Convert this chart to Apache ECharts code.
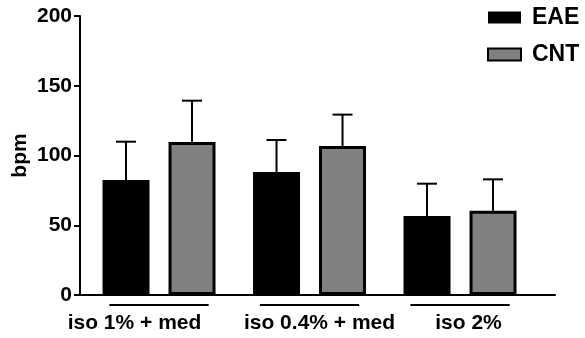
<!DOCTYPE html>
<html>
<head>
<meta charset="utf-8">
<script src="https://cdn.jsdelivr.net/npm/echarts@6/dist/echarts.min.js"></script>
<style>
  html, body { margin: 0; padding: 0; background: #fff; }
  #chart { width: 585px; height: 338px; }
</style>
</head>
<body>
<div id="chart"></div>
<script>
// Heart rate (bpm) under three anaesthesia conditions, mean + upper SD
const categories = ['iso 1% + med', 'iso 0.4% + med', 'iso 2%'];
const eaeMean = [82.4, 88.2, 56.6];
const eaeUpper = [109.9, 111.1, 79.8];
const cntMean = [109.7, 106.8, 60.4];
const cntUpper = [139.3, 129.3, 82.9];
const yTicks = [0, 50, 100, 150, 200];

const FONT = '"Liberation Sans", Arial, sans-serif';
const BAR_W = 47;
const BAR_GAP = 19;
const CAP_W = 20;

// horizontal nudges of the category captions (px, applied as padding)
const labelPads = [[0, 49, 0, 0], [0, 0, 0, 20], [0, 0, 0, 17]];

const chart = echarts.init(document.getElementById('chart'));

function errorSeries(name, means, uppers, side) {
  return {
    type: 'custom',
    name: name + ' SD',
    z: 5,
    clip: false,
    data: means.map((m, i) => [i, m, uppers[i]]),
    renderItem: function (params, api) {
      const i = api.value(0);
      const base = api.coord([i, api.value(1)]);
      const top = api.coord([i, api.value(2)]);
      const x = base[0] + side * (BAR_W + BAR_GAP) / 2;
      const style = { stroke: '#000', lineWidth: 2 };
      return {
        type: 'group',
        children: [
          { type: 'line', shape: { x1: x, y1: base[1], x2: x, y2: top[1] }, style: style },
          { type: 'line', shape: { x1: x - CAP_W / 2, y1: top[1], x2: x + CAP_W / 2, y2: top[1] }, style: style }
        ]
      };
    }
  };
}

const labelRich = {};
labelPads.forEach((p, i) => {
  labelRich['c' + i] = { fontFamily: FONT, fontWeight: 'bold', fontSize: 21, color: '#000', padding: p };
});

const option = {
  animation: false,
  backgroundColor: '#fff',
  grid: { left: 80, right: 30, top: 16, bottom: 43, containLabel: false, outerBoundsMode: 'none' },
  legend: {
    data: ['EAE', 'CNT'],
    orient: 'vertical',
    left: 482,
    top: 1,
    itemWidth: 33,
    itemHeight: 12,
    itemGap: 14,
    icon: 'rect',
    textStyle: { fontFamily: FONT, fontWeight: 'bold', fontSize: 23, color: '#000', padding: [0, 0, 0, 6] }
  },
  xAxis: {
    type: 'value',
    min: -0.525,
    max: 2.631,
    axisLine: { show: true, onZero: false, lineStyle: { color: '#000', width: 2 } },
    axisTick: { show: false },
    splitLine: { show: false },
    axisLabel: {
      customValues: [0, 1, 2],
      formatter: v => {
        const i = Math.round(v);
        return '{c' + i + '|' + categories[i] + '}';
      },
      rich: labelRich,
      margin: 18,
      fontFamily: FONT,
      fontWeight: 'bold',
      fontSize: 21,
      color: '#000'
    }
  },
  yAxis: {
    type: 'value',
    min: yTicks[0],
    max: yTicks[yTicks.length - 1],
    interval: 50,
    name: 'bpm',
    nameLocation: 'middle',
    nameGap: 49,
    nameMoveOverlap: false,
    nameTextStyle: { fontFamily: FONT, fontWeight: 'bold', fontSize: 21, color: '#000' },
    axisLine: { show: true, onZero: false, lineStyle: { color: '#000', width: 2 } },
    axisTick: { show: true, length: 6, lineStyle: { color: '#000', width: 2 } },
    splitLine: { show: false },
    axisLabel: { margin: 8, fontFamily: FONT, fontWeight: 'bold', fontSize: 21, color: '#000' }
  },
  series: [
    {
      name: 'EAE',
      type: 'bar',
      barWidth: BAR_W,
      barGap: (BAR_GAP / BAR_W * 100) + '%',
      data: eaeMean.map((v, i) => [i, v]),
      itemStyle: { color: '#000', borderColor: '#000', borderWidth: 0 }
    },
    {
      name: 'CNT',
      type: 'bar',
      barWidth: BAR_W,
      barGap: (BAR_GAP / BAR_W * 100) + '%',
      data: cntMean.map((v, i) => [i, v]),
      itemStyle: { color: '#808080', borderColor: '#000', borderWidth: 3 }
    },
    errorSeries('EAE', eaeMean, eaeUpper, -1),
    errorSeries('CNT', cntMean, cntUpper, 1),
    {
      // group underline beneath each pair of bars
      type: 'custom',
      name: 'groups',
      clip: false,
      data: categories.map((c, i) => [i]),
      renderItem: function (params, api) {
        const i = api.value(0);
        const a = api.coord([i - 0.33, 0]);
        const b = api.coord([i + 0.33, 0]);
        const y = a[1] + 10;
        return { type: 'line', shape: { x1: a[0], y1: y, x2: b[0], y2: y }, style: { stroke: '#000', lineWidth: 2 } };
      }
    }
  ]
};

chart.setOption(option);
</script>
</body>
</html>
